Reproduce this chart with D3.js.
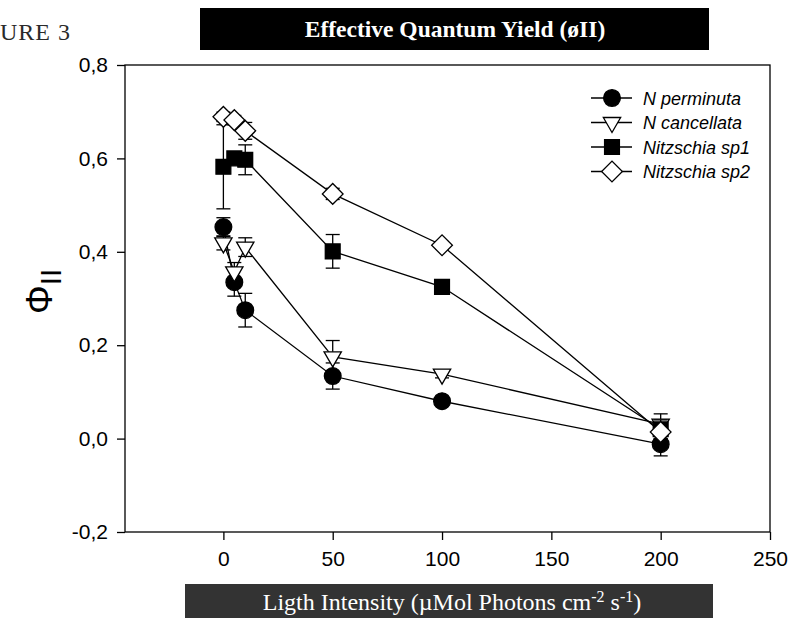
<!DOCTYPE html>
<html>
<head>
<meta charset="utf-8">
<script src="https://cdn.jsdelivr.net/npm/d3@7"></script>
<style>
  body { margin: 0; background: #fff; }
  svg { display: block; }
</style>
</head>
<body>
<script>
// light intensity levels
var lightLevels = [0, 5, 10, 50, 100, 200];

// effective quantum yield per species (means) and error bars
var nPerminuta = [0.453, 0.335, 0.275, 0.134, 0.080, -0.012];
var nPerminutaErr = [0.02, 0.03, 0.036, 0.028, 0.008, 0.025];
var nCancellata = [0.419, 0.357, 0.410, 0.175, 0.138, 0.031];
var nCancellataErr = [0.015, 0.02, 0.02, 0.035, 0.008, 0.022];
var nitzschiaSp1 = [0.582, 0.600, 0.597, 0.401, 0.325, 0.020];
var nitzschiaSp1Err = [0.09, 0.01, 0.032, 0.036, 0.006, 0.02];
var nitzschiaSp2 = [0.689, 0.682, 0.659, 0.524, 0.414, 0.014];
var nitzschiaSp2Err = [0.01, 0.01, 0.018, 0.012, 0.008, 0.015];

var seriesNames = ["N perminuta", "N cancellata", "Nitzschia sp1", "Nitzschia sp2"];
var xTicks = [0, 50, 100, 150, 200, 250];
var yTicks = [-0.2, 0.0, 0.2, 0.4, 0.6, 0.8];

var width = 793, height = 618;
var pL = 125, pR = 770, pT = 65, pB = 532;

var svg = d3.select("body").append("svg")
    .attr("width", width)
    .attr("height", height);

var x = d3.scaleLinear().domain([-45, 250]).range([pL, pR]);
var y = d3.scaleLinear().domain([-0.2, 0.8]).range([pB, pT]);

var comma = d3.formatLocale({decimal: ",", thousands: ".", grouping: [3], currency: ["", ""], minus: "-"}).format(".1f");

// figure label, cut at the edge like the page it came from
svg.append("text")
    .attr("x", 0).attr("y", 40)
    .attr("font-family", "Liberation Serif")
    .attr("font-size", 24)
    .attr("letter-spacing", 1)
    .attr("fill", "#2a2a2a")
    .text("URE 3");

// title bar
svg.append("rect")
    .attr("x", 200).attr("y", 8)
    .attr("width", 509).attr("height", 42)
    .attr("fill", "#000");
svg.append("text")
    .attr("x", 455).attr("y", 37)
    .attr("text-anchor", "middle")
    .attr("font-family", "Liberation Serif")
    .attr("font-weight", "bold")
    .attr("font-size", 23.5)
    .attr("fill", "#fff")
    .text("Effective Quantum Yield (øII)");

// frame
svg.append("rect")
    .attr("x", pL).attr("y", pT)
    .attr("width", pR - pL).attr("height", pB - pT)
    .attr("fill", "none")
    .attr("stroke", "#000")
    .attr("stroke-width", 1.3);

var xAxis = svg.append("g")
    .attr("transform", "translate(0," + pB + ")")
    .call(d3.axisBottom(x).tickValues(xTicks).tickSize(8).tickPadding(11));
var yAxis = svg.append("g")
    .attr("transform", "translate(" + pL + ",0)")
    .call(d3.axisLeft(y).tickValues(yTicks).tickSize(8).tickPadding(9).tickFormat(comma));

[xAxis, yAxis].forEach(function(g){
    g.select(".domain").remove();
    g.selectAll("line").attr("stroke", "#000").attr("stroke-width", 1.3);
    g.selectAll("text")
        .attr("font-family", "Liberation Sans")
        .attr("font-size", 21)
        .attr("fill", "#000");
});

// y axis title
var yt = svg.append("text")
    .attr("transform", "translate(52,314) rotate(-90)")
    .attr("font-family", "Liberation Sans")
    .attr("font-size", 36)
    .attr("fill", "#000");
yt.append("tspan").text("Φ");
yt.append("tspan").attr("dy", 9).attr("font-size", 30).text("II");

// x axis title bar
svg.append("rect")
    .attr("x", 185).attr("y", 584)
    .attr("width", 528).attr("height", 40)
    .attr("fill", "#333");
var xt = svg.append("text")
    .attr("x", 452).attr("y", 610)
    .attr("text-anchor", "middle")
    .attr("font-family", "Liberation Serif")
    .attr("font-size", 24)
    .attr("fill", "#fff");
xt.append("tspan").text("Ligth Intensity (µMol Photons cm");
xt.append("tspan").attr("dy", -8).attr("font-size", 16).text("-2");
xt.append("tspan").attr("dy", 8).text(" s");
xt.append("tspan").attr("dy", -8).attr("font-size", 16).text("-1");
xt.append("tspan").attr("dy", 8).text(")");

// series
var series = [
    {name: seriesNames[0], vals: nPerminuta, err: nPerminutaErr, shape: d3.symbolCircle, size: 220, fill: "#000"},
    {name: seriesNames[1], vals: nCancellata, err: nCancellataErr, shape: d3.symbolTriangle, size: 130, fill: "#fff", rot: 180},
    {name: seriesNames[2], vals: nitzschiaSp1, err: nitzschiaSp1Err, shape: d3.symbolSquare, size: 220, fill: "#000"},
    {name: seriesNames[3], vals: nitzschiaSp2, err: nitzschiaSp2Err, shape: d3.symbolSquare, size: 215, fill: "#fff", rot: 45}
];

function pts(s) {
    return lightLevels.map(function(l, i){ return {x: l, y: s.vals[i], e: s.err[i]}; });
}

var line = d3.line()
    .x(function(d){ return x(d.x); })
    .y(function(d){ return y(d.y); });

function marker(g, s, cx, cy) {
    var sym = d3.symbol().type(s.shape).size(s.size);
    var tf = "translate(" + cx + "," + cy + ")";
    if (s.rot) tf += " rotate(" + s.rot + ")";
    return g.append("path")
        .attr("d", sym)
        .attr("transform", tf)
        .attr("fill", s.fill)
        .attr("stroke", "#000")
        .attr("stroke-width", 1.3);
}

series.forEach(function(s){
    var g = svg.append("g");
    var data = pts(s);
    g.append("path")
        .datum(data)
        .attr("d", line)
        .attr("fill", "none")
        .attr("stroke", "#000")
        .attr("stroke-width", 1.3);
    var eb = g.selectAll(".eb").data(data).enter().append("g");
    eb.append("line")
        .attr("x1", function(d){ return x(d.x); })
        .attr("x2", function(d){ return x(d.x); })
        .attr("y1", function(d){ return y(d.y - d.e); })
        .attr("y2", function(d){ return y(d.y + d.e); })
        .attr("stroke", "#000").attr("stroke-width", 1.3);
    [-1, 1].forEach(function(sgn){
        eb.append("line")
            .attr("x1", function(d){ return x(d.x) - 7; })
            .attr("x2", function(d){ return x(d.x) + 7; })
            .attr("y1", function(d){ return y(d.y + sgn * d.e); })
            .attr("y2", function(d){ return y(d.y + sgn * d.e); })
            .attr("stroke", "#000").attr("stroke-width", 1.3);
    });
    data.forEach(function(d){
        marker(g, s, x(d.x), y(d.y));
    });
});

// legend
var lg = svg.append("g");
series.forEach(function(s, i){
    var ly = 98 + i * 24.5;
    lg.append("line")
        .attr("x1", 591).attr("x2", 632)
        .attr("y1", ly).attr("y2", ly)
        .attr("stroke", "#000").attr("stroke-width", 1.3);
    marker(lg, s, 612, ly);
    lg.append("text")
        .attr("x", 643).attr("y", ly + 6.5)
        .attr("font-family", "Liberation Sans")
        .attr("font-style", "italic")
        .attr("font-size", 18)
        .attr("fill", "#000")
        .text(s.name);
});
</script>
</body>
</html>
